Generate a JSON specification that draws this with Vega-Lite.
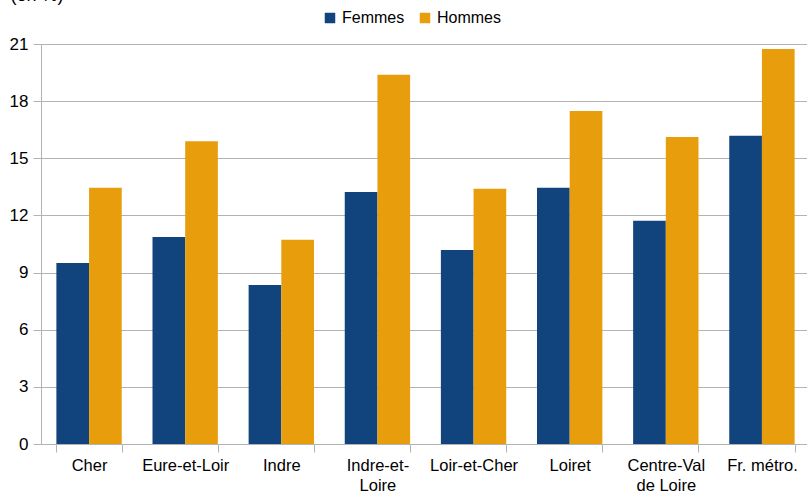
{
  "$schema": "https://vega.github.io/schema/vega-lite/v6.json",
  "width": 769,
  "height": 400,
  "autosize": {"type": "none"},
  "padding": {"left": 41, "top": 44, "right": 0, "bottom": 48},
  "background": "white",
  "config": {
    "font": "Liberation Sans",
    "view": {"stroke": null},
    "axis": {"labelFont": "Liberation Sans", "labelColor": "#000000", "labelFontSize": 16.5, "domainColor": "#b3b3b3", "tickColor": "#b3b3b3", "gridColor": "#b3b3b3"}
  },
  "data": {
    "values": [
      {"zone": "Cher", "sexe": "Femmes", "valeur": 9.5},
      {"zone": "Cher", "sexe": "Hommes", "valeur": 13.45},
      {"zone": "Eure-et-Loir", "sexe": "Femmes", "valeur": 10.87},
      {"zone": "Eure-et-Loir", "sexe": "Hommes", "valeur": 15.9},
      {"zone": "Indre", "sexe": "Femmes", "valeur": 8.35},
      {"zone": "Indre", "sexe": "Hommes", "valeur": 10.72},
      {"zone": "Indre-et-Loire", "sexe": "Femmes", "valeur": 13.23},
      {"zone": "Indre-et-Loire", "sexe": "Hommes", "valeur": 19.38},
      {"zone": "Loir-et-Cher", "sexe": "Femmes", "valeur": 10.18},
      {"zone": "Loir-et-Cher", "sexe": "Hommes", "valeur": 13.4},
      {"zone": "Loiret", "sexe": "Femmes", "valeur": 13.45},
      {"zone": "Loiret", "sexe": "Hommes", "valeur": 17.48},
      {"zone": "Centre-Val de Loire", "sexe": "Femmes", "valeur": 11.72},
      {"zone": "Centre-Val de Loire", "sexe": "Hommes", "valeur": 16.12},
      {"zone": "Fr. métro.", "sexe": "Femmes", "valeur": 16.18},
      {"zone": "Fr. métro.", "sexe": "Hommes", "valeur": 20.74}
    ]
  },
  "mark": {"type": "bar"},
  "encoding": {
    "x": {
      "field": "zone",
      "type": "nominal",
      "sort": null,
      "scale": {"paddingInner": 0.32, "paddingOuter": 0.16},
      "axis": {
        "title": null,
        "labelAngle": 0,
        "tickBand": "extent",
        "tickSize": 8,
        "labelPadding": 5,
        "labelLineHeight": 20,
        "labelExpr": "datum.label == 'Indre-et-Loire' ? ['Indre-et-', 'Loire'] : datum.label == 'Centre-Val de Loire' ? ['Centre-Val', 'de Loire'] : datum.label",
        "domain": true
      }
    },
    "xOffset": {"field": "sexe", "type": "nominal", "scale": {"paddingInner": 0, "paddingOuter": 0}},
    "y": {
      "field": "valeur",
      "type": "quantitative",
      "scale": {"domain": [0, 21], "nice": false},
      "axis": {
        "values": [0, 3, 6, 9, 12, 15, 18, 21],
        "tickSize": 8,
        "labelPadding": 5,
        "labelFontSize": 17,
        "grid": true,
        "title": "(en %)",
        "titleAngle": 0,
        "titleAlign": "left",
        "titleBaseline": "bottom",
        "titleFont": "Liberation Sans",
        "titleFontWeight": "normal",
        "titleFontSize": 18,
        "titleColor": "#000000",
        "titleX": -31,
        "titleY": -40
      }
    },
    "color": {
      "field": "sexe",
      "type": "nominal",
      "scale": {"domain": ["Femmes", "Hommes"], "range": ["#11437d", "#e89e0c"]},
      "legend": {
        "title": null,
        "orient": "none",
        "direction": "horizontal",
        "legendX": 281,
        "legendY": -34,
        "symbolType": "square",
        "symbolSize": 110,
        "symbolStrokeWidth": 0,
        "labelFontSize": 16,
        "labelFont": "Liberation Sans",
        "labelColor": "#000000",
        "columnPadding": 12,
        "labelOffset": 4
      }
    }
  }
}
